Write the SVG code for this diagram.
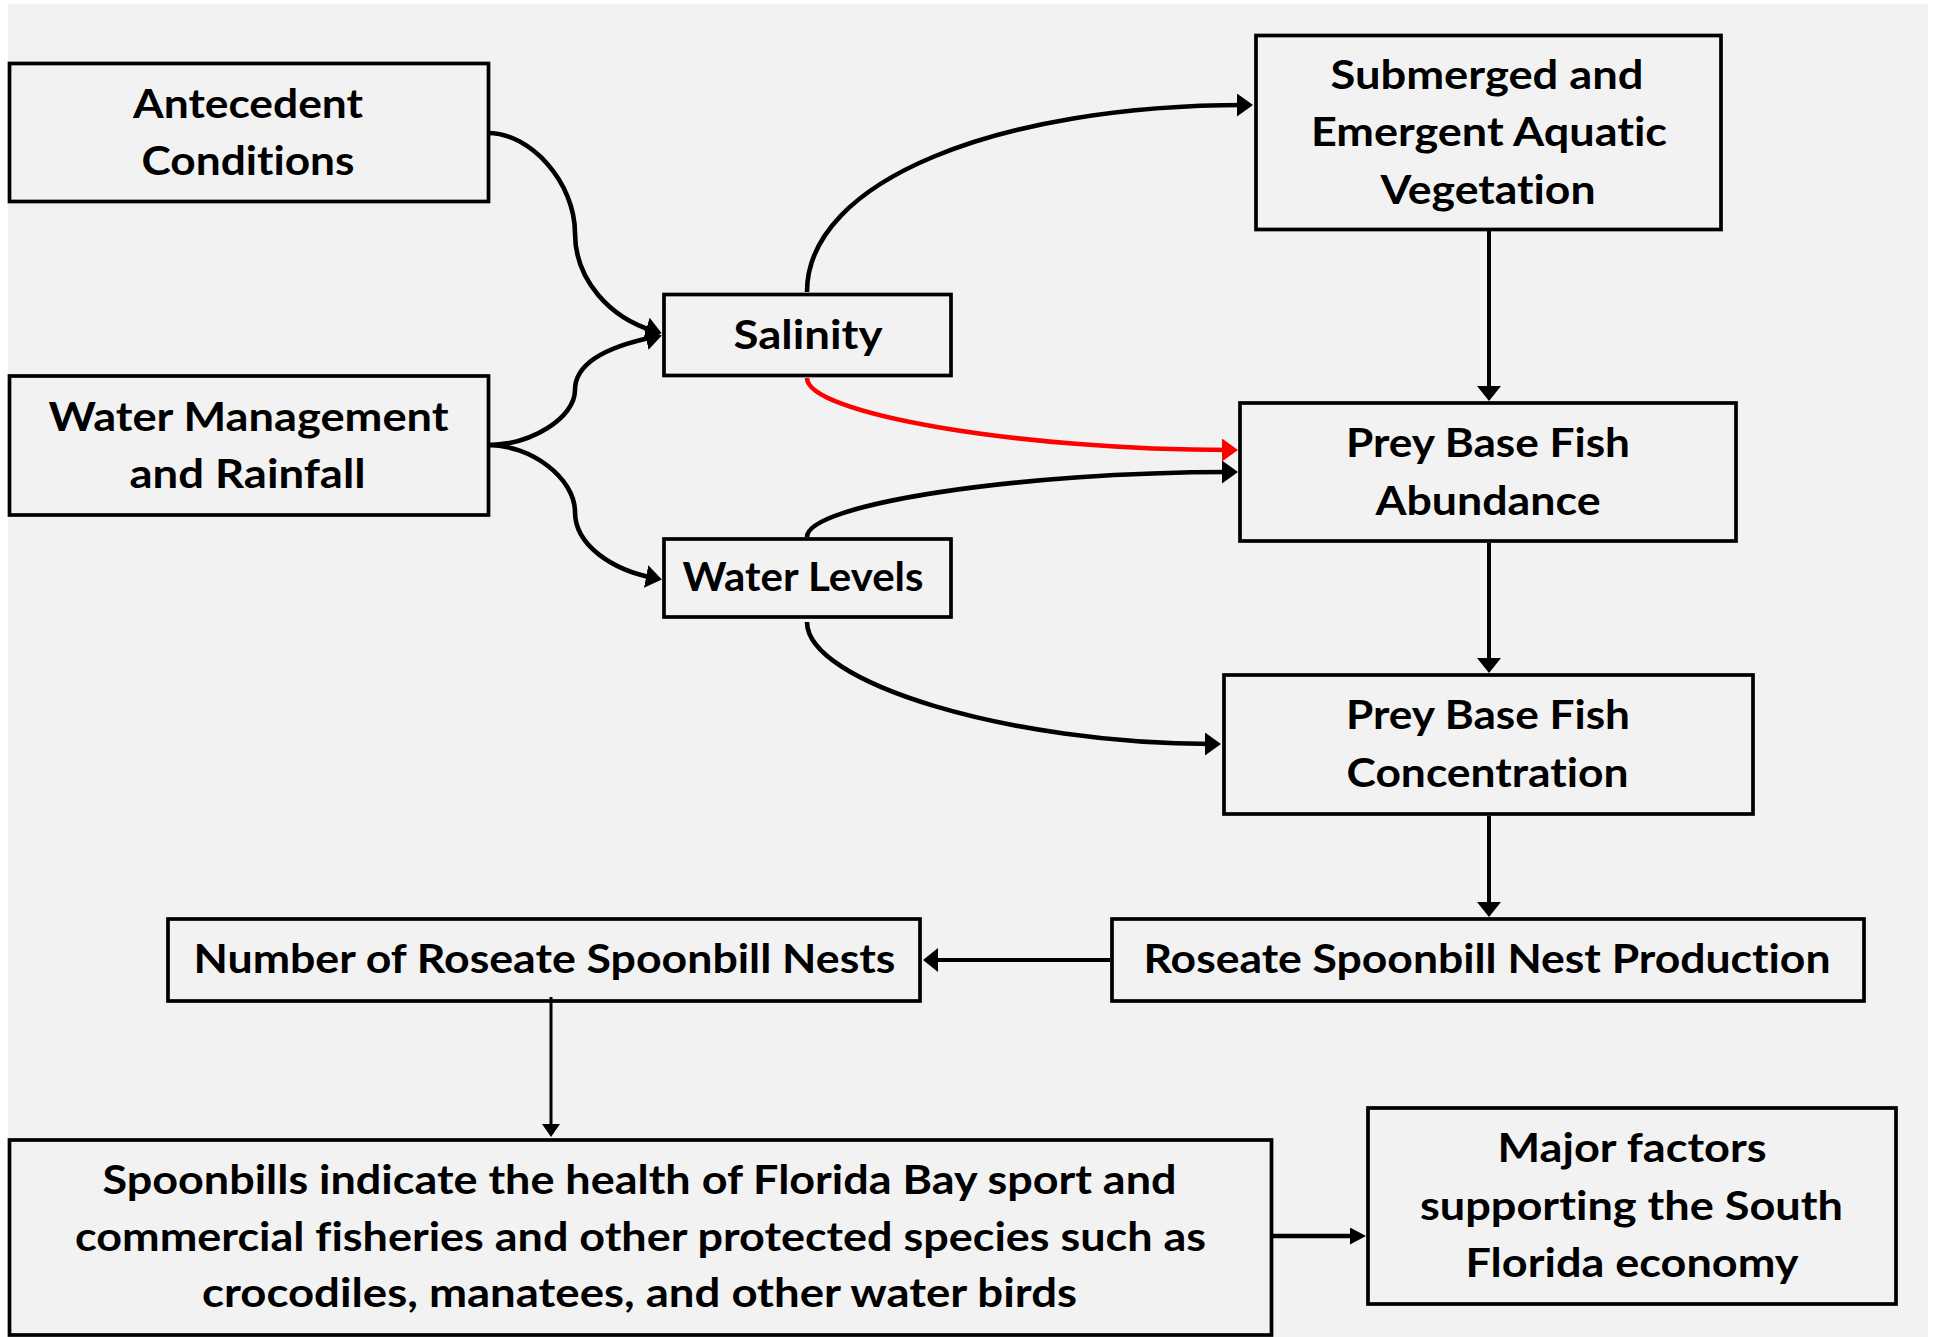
<svg xmlns="http://www.w3.org/2000/svg" width="1933" height="1337" viewBox="0 0 1933 1337">
  <style>
    .box { fill: none; stroke: #000; stroke-width: 3.7; }
    .lbl { font-family: "Lato", "Liberation Sans", sans-serif; font-weight: 700; font-size: 41px; fill: #000; text-anchor: middle; font-variant-ligatures: none; font-feature-settings: "liga" 0, "clig" 0, "dlig" 0; }
    .curve { fill: none; stroke: #000; stroke-width: 4.6; }
    .curve.red { stroke: #ff0000; }
    .line { fill: none; stroke: #000; stroke-width: 4; }
  </style>
  <defs>
    <marker id="ah-curve" markerUnits="userSpaceOnUse" viewBox="0 0 16 23" markerWidth="16" markerHeight="23" refX="8" refY="11.5" orient="auto">
      <path d="M0,0 L16,11.5 L0,23 Z" fill="#000"/>
    </marker>
    <marker id="ah-red" markerUnits="userSpaceOnUse" viewBox="0 0 16 23" markerWidth="16" markerHeight="23" refX="8" refY="11.5" orient="auto">
      <path d="M0,0 L16,11.5 L0,23 Z" fill="#ff0000"/>
    </marker>
    <marker id="ah-line" markerUnits="userSpaceOnUse" viewBox="0 0 15 24" markerWidth="15" markerHeight="24" refX="7" refY="12" orient="auto">
      <path d="M0,0 L15,12 L0,24 Z" fill="#000"/>
    </marker>
    <marker id="ah-small" markerUnits="userSpaceOnUse" viewBox="0 0 13 18" markerWidth="13" markerHeight="18" refX="5" refY="9" orient="auto">
      <path d="M0,0 L13,9 L0,18 Z" fill="#000"/>
    </marker>
    <marker id="ah-mid" markerUnits="userSpaceOnUse" viewBox="0 0 16 17" markerWidth="16" markerHeight="17" refX="8" refY="8.5" orient="auto">
      <path d="M0,0 L16,8.5 L0,17 Z" fill="#000"/>
    </marker>
  </defs>

  <!-- page -->
  <rect x="0" y="0" width="1933" height="1337" fill="#ffffff"/>
  <rect x="8" y="4" width="1920" height="1333" fill="#f2f2f2"/>

  <!-- connectors -->
  <g id="connectors">
    <path class="curve" d="M488,133 C531,133 575,183 575,233 C575,280 610,318 654,331" marker-end="url(#ah-curve)"/>
    <path class="curve" d="M488,445 C531,445 575,418 575,390 C575,362 610,346 654,337" marker-end="url(#ah-curve)"/>
    <path class="curve" d="M488,445 C531,445 575,478 575,512 C575,545 612,570 654,578" marker-end="url(#ah-curve)"/>
    <path class="curve" d="M807,292 C807,180 1000,105 1245,105" marker-end="url(#ah-curve)"/>
    <path class="curve red" d="M807,378 C807,414 1020,450 1230,450" marker-end="url(#ah-red)"/>
    <path class="curve" d="M807,537 C807,504 1020,472 1230,472" marker-end="url(#ah-curve)"/>
    <path class="curve" d="M807,622 C807,683 1010,744 1213,744" marker-end="url(#ah-curve)"/>
    <path class="line" d="M1489,231 L1489,393" marker-end="url(#ah-line)"/>
    <path class="line" d="M1489,543 L1489,665" marker-end="url(#ah-line)"/>
    <path class="line" d="M1489,816 L1489,909" marker-end="url(#ah-line)"/>
    <path class="line" d="M1110,960 L931,960" marker-end="url(#ah-line)"/>
    <path class="line" style="stroke-width:3" d="M551,997 L551,1129" marker-end="url(#ah-small)"/>
    <path class="line" style="stroke-width:4.6" d="M1273,1236 L1358,1236" marker-end="url(#ah-mid)"/>
  </g>

  <g id="node-antecedent">
    <rect class="box" x="9.5" y="63.5" width="479" height="138"/>
    <text class="lbl" x="248" y="117.5" textLength="230" lengthAdjust="spacingAndGlyphs">Antecedent</text>
    <text class="lbl" x="248" y="175" textLength="213" lengthAdjust="spacingAndGlyphs">Conditions</text>
  </g>

  <g id="node-water-management">
    <rect class="box" x="9.5" y="376" width="479" height="139"/>
    <text class="lbl" x="248.5" y="430.5" textLength="400" lengthAdjust="spacingAndGlyphs">Water Management</text>
    <text class="lbl" x="247.5" y="487.5" textLength="236" lengthAdjust="spacingAndGlyphs">and Rainfall</text>
  </g>

  <g id="node-salinity">
    <rect class="box" x="664" y="294.5" width="287" height="81"/>
    <text class="lbl" x="808" y="348.5" textLength="149" lengthAdjust="spacingAndGlyphs">Salinity</text>
  </g>

  <g id="node-water-levels">
    <rect class="box" x="664" y="539" width="287" height="78"/>
    <text class="lbl" x="803" y="591" textLength="241" lengthAdjust="spacingAndGlyphs">Water Levels</text>
  </g>

  <g id="node-vegetation">
    <rect class="box" x="1256" y="35.5" width="465" height="194"/>
    <text class="lbl" x="1487" y="89" textLength="313" lengthAdjust="spacingAndGlyphs">Submerged and</text>
    <text class="lbl" x="1489" y="146.3" textLength="356" lengthAdjust="spacingAndGlyphs">Emergent Aquatic</text>
    <text class="lbl" x="1488" y="203.8" textLength="215" lengthAdjust="spacingAndGlyphs">Vegetation</text>
  </g>

  <g id="node-abundance">
    <rect class="box" x="1240" y="403" width="496" height="138"/>
    <text class="lbl" x="1488" y="457.2" textLength="284" lengthAdjust="spacingAndGlyphs">Prey Base Fish</text>
    <text class="lbl" x="1488" y="514.5" textLength="225" lengthAdjust="spacingAndGlyphs">Abundance</text>
  </g>

  <g id="node-concentration">
    <rect class="box" x="1224" y="675" width="529" height="139"/>
    <text class="lbl" x="1488" y="729.3" textLength="284" lengthAdjust="spacingAndGlyphs">Prey Base Fish</text>
    <text class="lbl" x="1487.5" y="786.6" textLength="282" lengthAdjust="spacingAndGlyphs">Concentration</text>
  </g>

  <g id="node-nest-production">
    <rect class="box" x="1112" y="919" width="752" height="82"/>
    <text class="lbl" x="1487" y="973.3" textLength="687" lengthAdjust="spacingAndGlyphs">Roseate Spoonbill Nest Production</text>
  </g>

  <g id="node-nest-number">
    <rect class="box" x="168" y="919" width="752" height="82"/>
    <text class="lbl" x="544.5" y="973.3" textLength="702" lengthAdjust="spacingAndGlyphs">Number of Roseate Spoonbill Nests</text>
  </g>

  <g id="node-indicator">
    <rect class="box" x="9.5" y="1140" width="1262" height="195"/>
    <text class="lbl" x="639.5" y="1194" textLength="1074" lengthAdjust="spacingAndGlyphs">Spoonbills indicate the health of Florida Bay sport and</text>
    <text class="lbl" x="640.5" y="1251" textLength="1131" lengthAdjust="spacingAndGlyphs">commercial fisheries and other protected species such as</text>
    <text class="lbl" x="639.5" y="1307" textLength="875" lengthAdjust="spacingAndGlyphs">crocodiles, manatees, and other water birds</text>
  </g>

  <g id="node-economy">
    <rect class="box" x="1368" y="1108" width="528" height="196"/>
    <text class="lbl" x="1632" y="1162.2" textLength="269" lengthAdjust="spacingAndGlyphs">Major factors</text>
    <text class="lbl" x="1631.5" y="1219.5" textLength="423" lengthAdjust="spacingAndGlyphs">supporting the South</text>
    <text class="lbl" x="1632" y="1276.8" textLength="333" lengthAdjust="spacingAndGlyphs">Florida economy</text>
  </g>
</svg>
